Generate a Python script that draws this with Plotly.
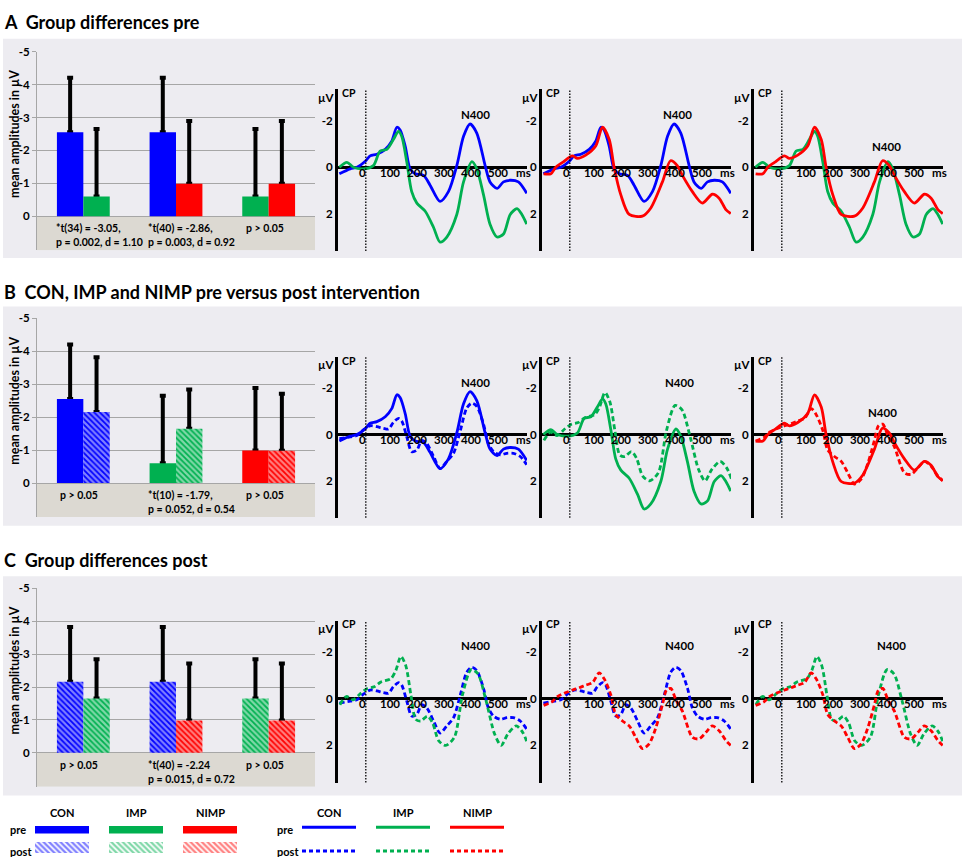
import plotly.graph_objects as go

W, H = 964, 857
FONT = "Lato"

BLUE = "#0000FF"
GREEN = "#00B050"
RED = "#FF0000"
PANEL_BG = "#EDECF1"
STAT_BG = "#DCD9D2"
GRID = "#A6A6A6"

# ERP waveforms at CP: time in ms, amplitude in µV (negative plotted up)
CON_PRE_MS = [-98, -58, -33, 0, 16, 41, 72, 96, 115, 127, 146, 164, 183, 214, 238, 275,
              306, 337, 362, 386, 411, 442, 460, 486, 510, 535, 565, 596]
CON_PRE_UV = [0.28, 0.07, 0.0, -0.28, -0.49, -0.56, -0.77, -1.12, -1.72, -1.6, -0.9, 0.07,
              0.28, 0.35, 0.77, 1.47, 1.05, -0.07, -1.33, -1.86, -1.47, -0.07, 0.63, 0.91,
              0.63, 0.56, 0.63, 1.12]

IMP_PRE_MS = [-98, -70, -46, -9, 28, 53, 78, 102, 121, 133, 152, 170, 189, 220, 251, 275,
              300, 337, 362, 393, 411, 436, 460, 486, 510, 535, 560, 578, 596]
IMP_PRE_UV = [0.0, -0.21, 0.0, 0.07, -0.07, -0.7, -0.77, -1.19, -1.54, -1.33, -0.21, 1.05,
              1.54, 1.89, 2.59, 3.22, 3.0, 2.03, 0.63, -0.24, 0.07, 1.19, 2.45, 3.0, 2.87,
              2.03, 1.78, 2.03, 2.45]

NIMP_PRE_MS = [-97, -70, -52, -27, 10, 28, 59, 96, 121, 146, 164, 189, 220, 269, 300, 343,
               373, 398, 417, 454, 491, 528, 553, 578, 596]
NIMP_PRE_UV = [0.28, 0.28, 0.0, -0.21, -0.49, -0.38, -0.52, -0.91, -1.72, -1.19, 0.0, 1.19,
               2.03, 2.1, 1.75, 0.63, -0.28, -0.07, 0.35, 1.05, 1.54, 1.16, 1.33, 1.82, 1.99]

CON_POST_MS = [-98, -58, -33, -9, 16, 41, 65, 84, 102, 121, 133, 152, 170, 189, 207, 226,
               251, 275, 300, 325, 350, 374, 393, 411, 436, 454, 473, 498, 522, 547, 572, 596]
CON_POST_UV = [0.18, 0.1, 0.04, -0.2, -0.38, -0.34, -0.27, -0.24, -0.52, -0.7, -0.59, 0.11,
               0.74, 0.67, 0.25, 0.39, 0.95, 1.47, 1.16, 0.81, -0.17, -1.15, -1.36, -1.22,
               -0.45, 0.39, 0.74, 0.88, 0.81, 0.81, 0.95, 1.3]

IMP_POST_MS = [-96, -72, -47, -19, 6, 31, 56, 93, 111, 130, 148, 167, 185, 204, 228, 247,
               270, 296, 328, 358, 390, 415, 446, 477, 501, 526, 557, 581, 599]
IMP_POST_UV = [0.25, -0.1, 0.04, -0.24, -0.45, -0.52, -0.73, -0.87, -1.22, -1.82, -1.43,
               -0.17, 0.88, 0.95, 0.74, 1.02, 1.8, 2.0, 1.65, -0.17, -1.26, -1.08, 0.11,
               1.51, 2.0, 1.51, 1.16, 1.44, 1.93]

NIMP_POST_MS = [-97, -64, -46, -21, 10, 35, 59, 84, 109, 127, 152, 170, 195, 220, 244, 269,
                294, 319, 343, 358, 374, 393, 417, 454, 479, 504, 528, 553, 578, 596]
NIMP_POST_UV = [0.28, 0.11, -0.1, -0.24, -0.38, -0.48, -0.59, -0.7, -1.12, -0.87, -0.17,
                0.67, 0.95, 1.16, 1.65, 2.14, 1.93, 1.23, 0.25, -0.38, -0.45, 0.04, 0.53,
                1.65, 1.72, 1.44, 1.16, 1.37, 1.79, 2.0]

# mean amplitudes and SD in the N400 window
CONDITIONS = ["CON pre", "IMP pre", "NIMP pre", "CON post", "IMP post", "NIMP post"]
MEAN_AMP = [-2.55, -0.60, -0.99, -2.16, -1.65, -0.98]
SD_AMP = [1.66, 2.05, 1.90, 1.66, 1.19, 1.73]

WAVES = {
    "CON pre": (CON_PRE_MS, CON_PRE_UV),
    "IMP pre": (IMP_PRE_MS, IMP_PRE_UV),
    "NIMP pre": (NIMP_PRE_MS, NIMP_PRE_UV),
    "CON post": (CON_POST_MS, CON_POST_UV),
    "IMP post": (IMP_POST_MS, IMP_POST_UV),
    "NIMP post": (NIMP_POST_MS, NIMP_POST_UV),
}

PANEL_TITLES = ["A  Group differences pre",
                "B  CON, IMP and NIMP pre versus post intervention",
                "C  Group differences post"]
PANEL_PAIRS = [
    [("CON pre", "IMP pre"), ("CON pre", "NIMP pre"), ("IMP pre", "NIMP pre")],
    [("CON pre", "CON post"), ("IMP pre", "IMP post"), ("NIMP pre", "NIMP post")],
    [("CON post", "IMP post"), ("CON post", "NIMP post"), ("IMP post", "NIMP post")],
]
PANEL_STATS = [
    ["*t(34) = -3.05,<br>p = 0.002, d = 1.10", "*t(40) = -2.86,<br>p = 0.003, d = 0.92", "p > 0.05"],
    ["p > 0.05", "*t(10) = -1.79,<br>p = 0.052, d = 0.54", "p > 0.05"],
    ["p > 0.05", "*t(40) = -2.24<br>p = 0.015, d = 0.72", "p > 0.05"],
]
N400_POS = [
    [(405, -2.27), (399, -2.28), (386, -0.91)],
    [(405, -2.27), (405, -2.27), (374, -0.97)],
    [(405, -2.29), (405, -2.29), (405, -2.29)],
]
BAR_TICKS = [0, -1, -2, -3, -4, -5]
WAVE_XTICKS = [0, 100, 200, 300, 400, 500]
GROUP_POS = [0, 1, 2]
GROUPS = ["CON", "IMP", "NIMP"]
COLOR = {"CON": BLUE, "IMP": GREEN, "NIMP": RED}

# pixel layout
PANEL_BOX = [(32, 253), (302, 523), (574, 795)]
TITLE_Y = [15, 287, 558]
BAR_Y = [(45, 211), (314, 480), (586, 752)]
WAVE_Y = [(83, 246), (353, 515), (619, 782)]
WAVE_X = [(338, 527), (542, 731), (754, 943)]
BAR_X = (37, 315)
BAR_RANGE = [1.03, -5]
WAVE_RANGE = [3.6, -3.35]
WAVE_XRANGE = [-103, 597]
HATCH = dict(shape="\\", bgcolor="white", size=4, solidity=0.55)


def fx(px):
    return px / W


def fy(py):
    return 1 - py / H


def bold(size, color="black"):
    return dict(family=FONT, size=size, color=color, weight="bold")


def axis_ids(n):
    s = "" if n == 1 else str(n)
    return "x" + s, "y" + s, "xaxis" + s, "yaxis" + s


fig = go.Figure()
layout_axes = {}
shapes = []
annotations = []

for p in range(3):
    top, bottom = PANEL_BOX[p]
    shapes.append(dict(type="rect", xref="paper", yref="paper", x0=fx(3), x1=fx(962),
                       y0=fy(bottom), y1=fy(top), fillcolor=PANEL_BG, line_width=0,
                       layer="below"))
    annotations.append(dict(text=PANEL_TITLES[p], xref="paper", yref="paper",
                            x=fx(2), y=fy(TITLE_Y[p]), xanchor="left", yanchor="middle",
                            showarrow=False, font=bold(18)))

    # ---- bar chart
    n = p * 4 + 1
    xa, ya, xk, yk = axis_ids(n)
    y_top, y_zero = BAR_Y[p]
    scale = (y_zero - y_top) / 5
    y_bot = y_zero + BAR_RANGE[0] * scale
    layout_axes[xk] = dict(domain=[fx(BAR_X[0]), fx(BAR_X[1])], range=[-0.5, 2.5],
                           showticklabels=False, showgrid=False, zeroline=False,
                           anchor=ya, fixedrange=True)
    layout_axes[yk] = dict(domain=[fy(y_bot), fy(y_top)], range=BAR_RANGE,
                           tickvals=BAR_TICKS, ticktext=[str(t) for t in BAR_TICKS],
                           showgrid=True, gridcolor=GRID, gridwidth=1, zeroline=False,
                           showline=True, linecolor=GRID, linewidth=1, ticks="outside",
                           ticklen=4, tickcolor=GRID, tickfont=bold(11.5), anchor=xa)
    shapes.append(dict(type="rect", xref=f"{xa} domain", yref=ya, x0=0, x1=1, y0=0,
                       y1=BAR_RANGE[0], fillcolor=STAT_BG, line_width=0, layer="below"))
    pairs = PANEL_PAIRS[p]
    for side in range(2):
        conds = [pair[side] for pair in pairs]
        idx = [CONDITIONS.index(c) for c in conds]
        cols = [COLOR[c.split()[0]] for c in conds]
        pat = ["" if c.endswith("pre") else HATCH["shape"] for c in conds]
        means = [MEAN_AMP[i] for i in idx]
        # error bars first, so the real bar hides the lower cap
        fig.add_trace(go.Bar(
            x=GROUP_POS, y=means, xaxis=xa, yaxis=ya, offsetgroup=f"s{side}",
            marker=dict(color="rgba(0,0,0,0)", line_width=0),
            error_y=dict(type="data", symmetric=False, array=[0, 0, 0],
                         arrayminus=[SD_AMP[i] for i in idx], color="black",
                         thickness=4, width=3),
            showlegend=False, hoverinfo="skip"))
        fig.add_trace(go.Bar(
            x=GROUP_POS, y=means, xaxis=xa, yaxis=ya, offsetgroup=f"s{side}",
            marker=dict(color=cols, line_width=0,
                        pattern=dict(HATCH, shape=pat, fgcolor=cols)),
            showlegend=False, hoverinfo="skip"))
    annotations.append(dict(text="mean amplitudes in µV", xref="paper", yref="paper",
                            x=fx(15), y=fy((y_top + y_zero) / 2), textangle=-90,
                            xanchor="center", yanchor="middle",
                            showarrow=False, font=bold(12.5)))
    for g, txt in zip(GROUP_POS, PANEL_STATS[p]):
        annotations.append(dict(text=txt, xref=xa, yref=ya,
                                x=g - (0.32 if "<br>" in txt else 0.27), y=0.12,
                                xanchor="left", yanchor="top", align="left",
                                showarrow=False, font=bold(10.5)))

    # ---- waveforms
    for k in range(3):
        n = p * 4 + 2 + k
        xa, ya, xk, yk = axis_ids(n)
        wy0, wy1 = WAVE_Y[p]
        wx0, wx1 = WAVE_X[k]
        layout_axes[xk] = dict(domain=[fx(wx0), fx(wx1)], range=WAVE_XRANGE,
                               showticklabels=False, showgrid=False, zeroline=False,
                               showline=False, anchor=ya)
        layout_axes[yk] = dict(domain=[fy(wy1), fy(wy0)], range=WAVE_RANGE,
                               tickvals=[-2, 0, 2], ticktext=["-2", "0", "2"],
                               showgrid=False, zeroline=True, zerolinecolor="black",
                               zerolinewidth=3, showline=True, linecolor="black",
                               linewidth=3, ticks="", tickfont=bold(11.5), anchor=xa)
        shapes.append(dict(type="line", xref=xa, yref=f"{ya} domain", x0=0, x1=0,
                           y0=0, y1=1,
                           line=dict(color="black", width=1.3, dash="1.5px,1.5px")))
        for cond in PANEL_PAIRS[p][k]:
            ms, uv = WAVES[cond]
            post = cond.endswith("post")
            fig.add_trace(go.Scatter(
                x=ms, y=uv, xaxis=xa, yaxis=ya, mode="lines",
                line=dict(color=COLOR[cond.split()[0]], width=2.8,
                          dash="5px,3px" if post else "solid",
                          shape="spline", smoothing=0.8),
                showlegend=False, hoverinfo="skip"))
        for t in WAVE_XTICKS:
            annotations.append(dict(text=str(t), xref=xa, yref=ya, x=t, y=0.22,
                                    xshift=-3, showarrow=False, font=bold(11.5)))
        annotations.append(dict(text="ms", xref=xa, yref=ya, x=584, y=0.22,
                                showarrow=False, font=bold(11.5)))
        annotations.append(dict(text="µV", xref=xa, yref=ya, x=WAVE_XRANGE[0], y=-3.02,
                                xanchor="right", xshift=-1, showarrow=False,
                                font=bold(11.5)))
        annotations.append(dict(text="CP", xref=xa, yref=ya, x=WAVE_XRANGE[0], y=-3.2,
                                xanchor="left", xshift=2, showarrow=False,
                                font=bold(10.5)))
        nx, ny = N400_POS[p][k]
        annotations.append(dict(text="N400", xref=xa, yref=ya, x=nx, y=ny,
                                showarrow=False, font=bold(11.5)))

# ---- legend (bottom)
xa, ya, xk, yk = axis_ids(13)
layout_axes[xk] = dict(domain=[0, 1], range=[0, W], visible=False, anchor=ya)
layout_axes[yk] = dict(domain=[0, fy(798)], range=[H, 798], visible=False, anchor=xa)
BAR_KEY_X = [35, 109, 183]
LINE_KEY_X = [302, 376, 450]
KEY_W = 54
for g, name in enumerate(GROUPS):
    c = COLOR[name]
    fig.add_trace(go.Bar(x=[KEY_W], base=[BAR_KEY_X[g]], y=[829.5], width=[7.5],
                         offset=-3.75, orientation="h", xaxis=xa, yaxis=ya,
                         marker=dict(color=c, line_width=0), showlegend=False,
                         hoverinfo="skip"))
    fig.add_trace(go.Bar(x=[KEY_W], base=[BAR_KEY_X[g]], y=[847.5], width=[11],
                         offset=-5.5, orientation="h", xaxis=xa, yaxis=ya,
                         marker=dict(color=c, line_width=0,
                                     pattern=dict(HATCH, fgcolor=c)),
                         showlegend=False, hoverinfo="skip"))
    fig.add_trace(go.Scatter(x=[LINE_KEY_X[g], LINE_KEY_X[g] + KEY_W], y=[827, 827],
                             xaxis=xa, yaxis=ya, mode="lines",
                             line=dict(color=c, width=3), showlegend=False,
                             hoverinfo="skip"))
    fig.add_trace(go.Scatter(x=[LINE_KEY_X[g], LINE_KEY_X[g] + KEY_W], y=[851, 851],
                             xaxis=xa, yaxis=ya, mode="lines",
                             line=dict(color=c, width=3, dash="4px,3px"),
                             showlegend=False, hoverinfo="skip"))
    for x0 in (BAR_KEY_X[g], LINE_KEY_X[g]):
        annotations.append(dict(text=name, xref=xa, yref=ya, x=x0 + KEY_W / 2, y=812,
                                showarrow=False, font=bold(11)))
for x0 in (8, 275):
    annotations.append(dict(text="pre", xref=xa, yref=ya, x=x0, y=829, xanchor="left",
                            showarrow=False, font=bold(11)))
    annotations.append(dict(text="post", xref=xa, yref=ya, x=x0, y=851, xanchor="left",
                            showarrow=False, font=bold(11)))

fig.update_layout(
    width=W, height=H,
    margin=dict(l=0, r=0, t=0, b=0),
    paper_bgcolor="white",
    plot_bgcolor="rgba(0,0,0,0)",
    barmode="group", bargap=0.43, bargroupgap=0,
    font=dict(family=FONT, size=11, color="black"),
    shapes=shapes,
    annotations=annotations,
    showlegend=False,
    **layout_axes,
)

fig.write_html("out.html", config={"displayModeBar": False},
               post_script="document.body.style.margin='0';")
